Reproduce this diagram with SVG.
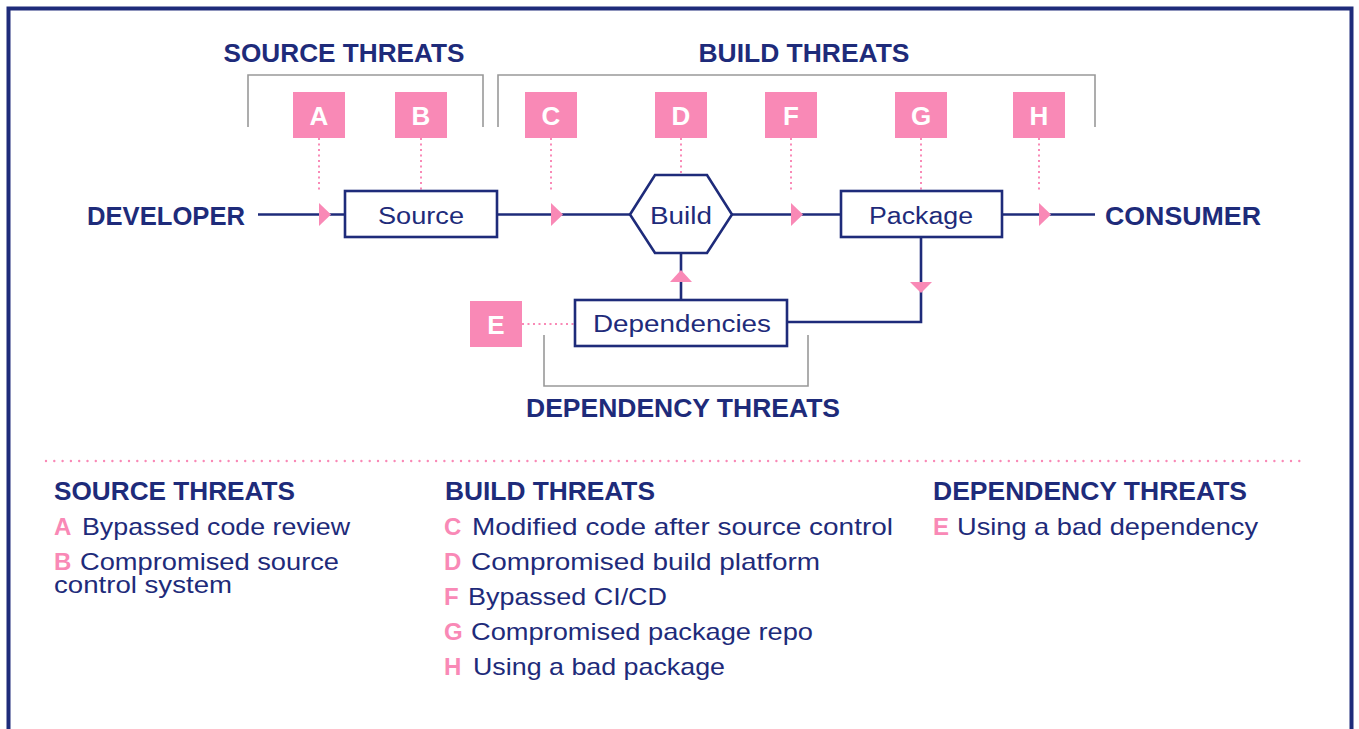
<svg xmlns="http://www.w3.org/2000/svg" width="1359" height="729" viewBox="0 0 1359 729">
  <style>
    .frame { fill: none; stroke: #1e2b7a; stroke-width: 4; }
    .bracket { fill: none; stroke: #999999; stroke-width: 1.6; }
    .node { fill: #ffffff; stroke: #1e2b7a; stroke-width: 2.6; }
    .flow { fill: none; stroke: #1e2b7a; stroke-width: 2.6; }
    .dot { fill: none; stroke: #f989b6; stroke-width: 2; stroke-dasharray: 2 3.5; }
    .sep { fill: none; stroke: #f989b6; stroke-width: 2.4; stroke-dasharray: 0 8.3; stroke-linecap: round; }
    .tag { fill: #f989b6; }
    .tagtxt { font-family: "Liberation Sans", Arial, sans-serif; font-weight: bold; font-size: 26px; fill: #ffffff; text-anchor: middle; }
    .head { font-family: "Liberation Sans", Arial, sans-serif; font-weight: bold; font-size: 25px; fill: #1e2b7a; }
    .lbl { font-family: "Liberation Sans", Arial, sans-serif; font-size: 23px; fill: #1e2b7a; text-anchor: middle; }
    .item { font-family: "Liberation Sans", Arial, sans-serif; font-size: 24px; fill: #1e2b7a; }
    .key { font-family: "Liberation Sans", Arial, sans-serif; font-weight: bold; font-size: 24px; fill: #f989b6; }
    .arrow { fill: #f989b6; }
  </style>

  <rect class="frame" x="8.5" y="8.5" width="1343" height="760"/>

  <!-- threat group brackets -->
  <g id="brackets">
    <polyline class="bracket" points="248,127 248,75 483,75 483,127"/>
    <polyline class="bracket" points="498,127 498,75 1095,75 1095,127"/>
    <polyline class="bracket" points="544,335 544,386 808,386 808,335"/>
    <text class="head" x="344" y="62" text-anchor="middle" textLength="241" lengthAdjust="spacingAndGlyphs">SOURCE THREATS</text>
    <text class="head" x="804" y="62" text-anchor="middle" textLength="211" lengthAdjust="spacingAndGlyphs">BUILD THREATS</text>
    <text class="head" x="683" y="417" text-anchor="middle" textLength="314" lengthAdjust="spacingAndGlyphs">DEPENDENCY THREATS</text>
  </g>

  <!-- connectors -->
  <g id="connectors">
    <line class="flow" x1="258" y1="214.5" x2="345" y2="214.5"/>
    <line class="flow" x1="497" y1="214.5" x2="630" y2="214.5"/>
    <line class="flow" x1="732" y1="214.5" x2="841" y2="214.5"/>
    <line class="flow" x1="1002" y1="214.5" x2="1095" y2="214.5"/>
    <polyline class="flow" points="921,237 921,322 787,322"/>
    <line class="flow" x1="681" y1="253" x2="681" y2="300"/>
    <polygon class="arrow" points="319,203 331,214.5 319,226"/>
    <polygon class="arrow" points="551,203 563,214.5 551,226"/>
    <polygon class="arrow" points="791,203 803,214.5 791,226"/>
    <polygon class="arrow" points="1039,203 1051,214.5 1039,226"/>
    <polygon class="arrow" points="910,282 932,282 921,293"/>
    <polygon class="arrow" points="670,282 692,282 681,270"/>
    <!-- threat markers linked to the flow -->
    <line class="dot" x1="319" y1="138" x2="319" y2="191"/>
    <line class="dot" x1="421" y1="138" x2="421" y2="191"/>
    <line class="dot" x1="551" y1="138" x2="551" y2="191"/>
    <line class="dot" x1="681" y1="138" x2="681" y2="175"/>
    <line class="dot" x1="791" y1="138" x2="791" y2="191"/>
    <line class="dot" x1="921" y1="138" x2="921" y2="191"/>
    <line class="dot" x1="1039" y1="138" x2="1039" y2="191"/>
    <line class="dot" x1="522" y1="324" x2="575" y2="324"/>
  </g>

  <!-- endpoints -->
  <g id="developer">
    <text class="head" x="87" y="225" textLength="158" lengthAdjust="spacingAndGlyphs">DEVELOPER</text>
  </g>
  <g id="consumer">
    <text class="head" x="1105" y="225" textLength="156" lengthAdjust="spacingAndGlyphs">CONSUMER</text>
  </g>

  <!-- process nodes -->
  <g id="source">
    <rect class="node" x="345" y="191" width="152" height="46"/>
    <text class="lbl" x="421" y="224" textLength="86" lengthAdjust="spacingAndGlyphs">Source</text>
  </g>
  <g id="build">
    <polygon class="node" points="630,214.5 655,175 707,175 732,214.5 707,253 655,253"/>
    <text class="lbl" x="681" y="224" textLength="62" lengthAdjust="spacingAndGlyphs">Build</text>
  </g>
  <g id="package">
    <rect class="node" x="841" y="191" width="161" height="46"/>
    <text class="lbl" x="921" y="224" textLength="104" lengthAdjust="spacingAndGlyphs">Package</text>
  </g>
  <g id="dependencies">
    <rect class="node" x="575" y="300" width="212" height="46"/>
    <text class="lbl" x="682" y="332" textLength="178" lengthAdjust="spacingAndGlyphs">Dependencies</text>
  </g>

  <!-- threat markers -->
  <g id="threat-a"><rect class="tag" x="293" y="92" width="52" height="46"/><text class="tagtxt" x="319" y="125">A</text></g>
  <g id="threat-b"><rect class="tag" x="395" y="92" width="52" height="46"/><text class="tagtxt" x="421" y="125">B</text></g>
  <g id="threat-c"><rect class="tag" x="525" y="92" width="52" height="46"/><text class="tagtxt" x="551" y="125">C</text></g>
  <g id="threat-d"><rect class="tag" x="655" y="92" width="52" height="46"/><text class="tagtxt" x="681" y="125">D</text></g>
  <g id="threat-f"><rect class="tag" x="765" y="92" width="52" height="46"/><text class="tagtxt" x="791" y="125">F</text></g>
  <g id="threat-g"><rect class="tag" x="895" y="92" width="52" height="46"/><text class="tagtxt" x="921" y="125">G</text></g>
  <g id="threat-h"><rect class="tag" x="1013" y="92" width="52" height="46"/><text class="tagtxt" x="1039" y="125">H</text></g>
  <g id="threat-e"><rect class="tag" x="470" y="301" width="52" height="46"/><text class="tagtxt" x="496" y="334">E</text></g>

  <!-- legend -->
  <line class="sep" x1="46" y1="461" x2="1300" y2="461"/>
  <g id="legend-source">
    <text class="head" x="54" y="500" textLength="241" lengthAdjust="spacingAndGlyphs">SOURCE THREATS</text>
    <text class="key" x="54" y="535">A</text>
    <text class="item" x="82" y="535" textLength="268" lengthAdjust="spacingAndGlyphs">Bypassed code review</text>
    <text class="key" x="54" y="570">B</text>
    <text class="item" x="80" y="570" textLength="259" lengthAdjust="spacingAndGlyphs">Compromised source</text>
    <text class="item" x="54" y="593" textLength="178" lengthAdjust="spacingAndGlyphs">control system</text>
  </g>
  <g id="legend-build">
    <text class="head" x="445" y="500" textLength="210" lengthAdjust="spacingAndGlyphs">BUILD THREATS</text>
    <text class="key" x="444" y="535">C</text>
    <text class="item" x="472" y="535" textLength="421" lengthAdjust="spacingAndGlyphs">Modified code after source control</text>
    <text class="key" x="444" y="570">D</text>
    <text class="item" x="471" y="570" textLength="349" lengthAdjust="spacingAndGlyphs">Compromised build platform</text>
    <text class="key" x="444" y="605">F</text>
    <text class="item" x="468" y="605" textLength="199" lengthAdjust="spacingAndGlyphs">Bypassed CI/CD</text>
    <text class="key" x="444" y="640">G</text>
    <text class="item" x="471" y="640" textLength="342" lengthAdjust="spacingAndGlyphs">Compromised package repo</text>
    <text class="key" x="444" y="675">H</text>
    <text class="item" x="473" y="675" textLength="252" lengthAdjust="spacingAndGlyphs">Using a bad package</text>
  </g>
  <g id="legend-dependency">
    <text class="head" x="933" y="500" textLength="314" lengthAdjust="spacingAndGlyphs">DEPENDENCY THREATS</text>
    <text class="key" x="933" y="535">E</text>
    <text class="item" x="957" y="535" textLength="301" lengthAdjust="spacingAndGlyphs">Using a bad dependency</text>
  </g>
</svg>
